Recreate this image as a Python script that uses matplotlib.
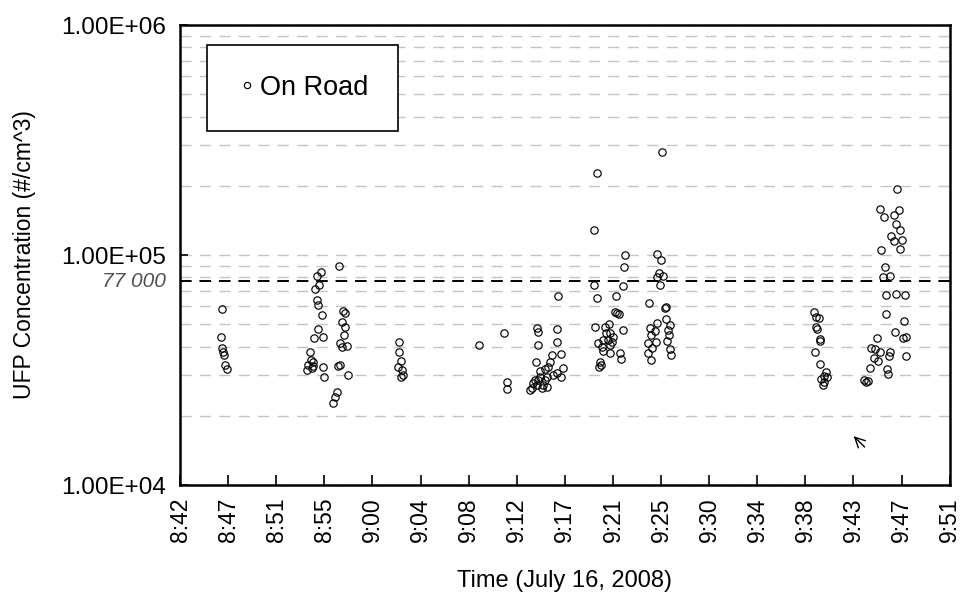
import matplotlib
matplotlib.use("Agg")
import matplotlib.pyplot as plt
from matplotlib.ticker import FixedLocator, LogLocator, NullFormatter

plt.rcParams['font.family'] = ['Liberation Sans', 'DejaVu Sans']

# ---- data : time in minutes after midnight, UFP concentration (#/cm^3) ----
time_min = [
    # 8:46 pass
    526.49, 526.40, 526.49, 526.58, 526.67, 526.76, 526.94,
    # 8:54 - 8:56 pass
    536.97, 535.35, 534.99, 535.22, 534.84, 534.99, 535.14, 535.44, 537.33, 537.53,
    537.24, 537.53, 535.14, 534.75, 535.53, 537.44, 537.08, 537.74, 537.24, 534.39,
    534.45, 534.63, 534.24, 534.69, 534.09, 534.54, 535.58, 536.93, 537.08, 537.83,
    535.67, 536.79, 536.63, 536.48,
    # 9:02 pass
    542.41, 542.41, 542.53, 542.32, 542.68, 542.77, 542.56,
    # 9:09 - 9:11
    549.56, 551.83, 552.05, 552.10,
    # 9:14 - 9:17 pass
    556.68, 554.74, 554.83, 556.59, 554.88, 556.59, 554.65, 556.09, 556.90, 555.93,
    555.78, 555.49, 555.04, 557.13, 556.59, 556.90, 556.23, 555.64, 555.04, 554.59,
    554.38, 554.74, 555.33, 555.69, 554.29, 555.19, 554.14, 554.88, 555.49,
    # 9:19 - 9:22 pass
    560.13, 559.89, 562.67, 562.58, 559.89, 562.52, 560.13, 561.92, 561.77, 561.98,
    562.16, 559.97, 561.26, 560.87, 562.46, 561.02, 561.38, 561.62, 560.72, 561.17,
    560.27, 561.53, 560.58, 561.32, 560.67, 561.38, 562.28, 562.37, 560.42, 560.49,
    560.36,
    # 9:24 - 9:26 pass
    566.05, 565.60, 565.96, 565.75, 566.11, 565.57, 565.87, 564.85, 566.26, 566.35,
    565.57, 566.35, 566.71, 564.97, 566.55, 565.36, 565.06, 566.64, 565.45, 564.76,
    566.46, 565.15, 566.77, 564.76, 566.86, 565.00,
    # 9:39 - 9:40 pass
    579.63, 579.88, 580.11, 579.88, 579.93, 580.17, 580.24, 579.72, 580.24, 580.71,
    580.53, 580.83, 580.33, 580.53, 580.47,
    # 9:44 - 9:47 pass
    587.11, 585.62, 587.29, 585.92, 586.82, 587.06, 587.35, 586.61, 586.82, 587.53,
    587.42, 585.71, 586.01, 585.86, 586.52, 586.10, 587.06, 587.80, 586.16, 587.71,
    586.90, 587.65, 587.96, 585.32, 584.81, 585.11, 585.56, 586.52, 586.39, 585.02,
    585.41, 587.89, 584.72, 586.21, 586.30, 584.51, 584.37, 584.19,
]

ufp_conc = [
    58200, 44000, 39400, 37900, 36700, 33200, 31900,
    89600, 84600, 81000, 74300, 71400, 63700, 60600, 54900, 57300, 55800,
    51300, 48800, 47700, 43400, 44100, 44900, 41300, 40300, 39900, 38000,
    35000, 34400, 33200, 32900, 31600, 32200, 32700, 32900, 33100, 30100,
    29400, 25400, 24200, 22700,
    42000, 38000, 34700, 32500, 31600, 30100, 29400,
    40600, 46000, 28100, 26100,
    66500, 48300, 46400, 47500, 40600, 42000, 34400, 36700, 37100, 34400,
    32500, 31800, 31400, 32200, 30800, 29400, 30100, 29600, 29600, 28600,
    27700, 27200, 27200, 26600, 26300, 26300, 25900, 28600, 28600,
    228000, 129000, 100300, 89000, 74100, 73300, 64800, 66300, 56700, 55800,
    55400, 48800, 50000, 48800, 47200, 46000, 45700, 44100, 42700, 42700,
    41300, 42000, 39900, 40600, 38400, 37400, 37600, 35200, 34400, 33200,
    32700,
    280000, 100700, 95100, 83300, 81000, 80500, 73800, 62000, 58700, 59600,
    50800, 52500, 49600, 48000, 47200, 46900, 44900, 44900, 42000, 41300,
    42300, 39300, 38900, 37600, 36700, 35000,
    56700, 53900, 53100, 48500, 47500, 43000, 42400, 38000, 33600, 31100,
    29800, 29600, 28800, 28100, 27200,
    194000, 158000, 157000, 146000, 150000, 136000, 129000, 121000, 115000, 116000,
    106000, 105000, 88400, 80500, 81000, 67000, 67500, 67000, 55200, 51600,
    46400, 43400, 44100, 43400, 39500, 38900, 38000, 38000, 36400, 35600,
    34700, 36400, 32400, 31900, 30400, 28400, 28000, 28500,
]

threshold = 77000
x_start = 522.72      # 8:42:43
x_step = 4.32         # minutes between labels
tick_labels = ['8:42', '8:47', '8:51', '8:55', '9:00', '9:04', '9:08', '9:12', '9:17',
               '9:21', '9:25', '9:30', '9:34', '9:38', '9:43', '9:47', '9:51']

fig = plt.figure(figsize=(9.68, 5.97), dpi=100)
ax = fig.add_axes([0.186, 0.1876, 0.795, 0.7705])

ax.plot(time_min, ufp_conc, linestyle='none', marker='o', ms=5.3, mfc='none',
        mec='black', mew=0.85, label='On Road')

ax.set_yscale('log')
ax.set_ylim(1e4, 1e6)
ax.set_xlim(x_start, x_start + x_step * (len(tick_labels) - 1))

# y axis
ax.yaxis.set_major_locator(FixedLocator([1e4, 1e5, 1e6]))
ax.set_yticklabels(['1.00E+04', '1.00E+05', '1.00E+06'])
ax.yaxis.set_minor_locator(LogLocator(base=10, subs=range(2, 10)))
ax.yaxis.set_minor_formatter(NullFormatter())
ax.tick_params(axis='y', which='major', direction='in', length=6, width=1.2,
               labelsize=17.5, pad=10)
ax.tick_params(axis='y', which='minor', length=0)
ax.grid(True, axis='y', which='both', color='#c4c4c4', linestyle=(0, (8, 6)), lw=1)

# x axis
ax.set_xticks([x_start + i * x_step for i in range(len(tick_labels))])
ax.set_xticklabels(tick_labels, rotation=90)
ax.tick_params(axis='x', direction='in', length=7, width=1.2, labelsize=16.5, pad=9)

for sp in ax.spines.values():
    sp.set_linewidth(1.8)

# threshold line
ax.axhline(threshold, color='black', linestyle=(0, (6, 4)), lw=1.4)
ax.text(-0.018, threshold, '77 000', transform=ax.get_yaxis_transform(),
        ha='right', va='center', fontsize=15, style='italic', color='#505050')

# small arrow
ax.annotate('', xy=(583.22, 16300), xytext=(584.21, 14630),
            arrowprops=dict(arrowstyle='->', color='black', lw=1.0, mutation_scale=18,
                            shrinkA=0, shrinkB=0))

ax.set_xlabel('Time (July 16, 2008)', fontsize=17, labelpad=20)
ax.set_ylabel('UFP Concentration (#/cm^3)', fontsize=16.5, labelpad=18)

leg = ax.legend(loc='upper left', bbox_to_anchor=(0.035, 0.9565), borderaxespad=0,
                fontsize=19.5, frameon=True, fancybox=False, edgecolor='black',
                borderpad=1.1, handlelength=0.75, handletextpad=0.1, markerscale=0.85)
leg.get_frame().set_linewidth(1.2)
leg.get_frame().set_alpha(1)

fig.savefig('out.png', dpi=100)
